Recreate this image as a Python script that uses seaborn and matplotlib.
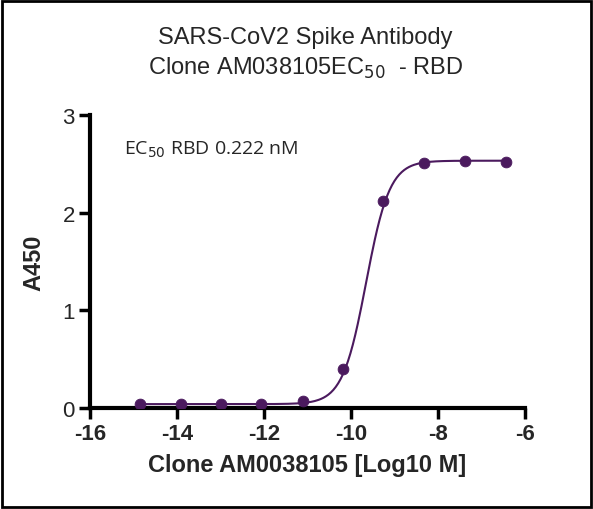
import numpy as np
import pandas as pd
import matplotlib
matplotlib.use("Agg")
import matplotlib.pyplot as plt
from matplotlib.patches import Rectangle
import seaborn as sns

# measured points (log10 M concentration vs A450)
log_conc = [-14.85, -13.91, -12.98, -12.06, -11.10, -10.18, -9.26, -8.31, -7.37, -6.44]
a450 = [0.04, 0.04, 0.04, 0.04, 0.07, 0.40, 2.12, 2.51, 2.53, 2.52]

# 4PL fit parameters
bottom, top, log_ec50, hill = 0.04, 2.53, -9.65, 1.6

x_ticks = [-16, -14, -12, -10, -8, -6]
y_ticks = [0, 1, 2, 3]

color = "#4b1a5e"

sns.set_style("white")
plt.rcParams["font.family"] = ["Liberation Sans", "DejaVu Sans"]

fig = plt.figure(figsize=(5.93, 5.10), dpi=100)
ax = fig.add_axes([0.152, 0.198, 0.733, 0.575])

df = pd.DataFrame({"x": log_conc, "y": a450})

# fitted curve
xs = np.linspace(min(log_conc), max(log_conc), 300)
ys = bottom + (top - bottom) / (1 + 10 ** ((log_ec50 - xs) * hill))
fit = pd.DataFrame({"x": xs, "y": ys})
sns.lineplot(data=fit, x="x", y="y", ax=ax, color=color, linewidth=1.5)
sns.scatterplot(data=df, x="x", y="y", ax=ax, color=color, s=60, edgecolor=color, zorder=3)

ax.set_xlim(-16, -6)
ax.set_ylim(0, 3)
ax.set_xticks(x_ticks)
ax.set_yticks(y_ticks)
ax.set_xticklabels([str(t) for t in x_ticks], fontsize=16, fontweight="bold")
ax.set_yticklabels([str(t) for t in y_ticks], fontsize=16)
ax.tick_params(axis="both", direction="out", length=8, width=2.5, color="black",
               bottom=True, left=True, pad=3)

sns.despine(ax=ax)
for side in ["left", "bottom"]:
    ax.spines[side].set_linewidth(3)
    ax.spines[side].set_color("black")

ax.set_xlabel("Clone AM0038105 [Log10 M]", fontsize=17, fontweight="bold", labelpad=6)
ax.set_ylabel("A450", fontsize=17, fontweight="bold", labelpad=12)

ax.text(-15.22, 2.65, r"EC$_{50}$ RBD 0.222 nM", fontsize=14,
        family=["Open Sans", "DejaVu Sans"], ha="left", va="center")

fig.text(0.515, 0.925, "SARS-CoV2 Spike Antibody", ha="center", va="center", fontsize=17)
fig.text(0.515, 0.866, r"Clone AM038105EC$_{50}$  - RBD", ha="center", va="center", fontsize=17)

# outer frame of the image
fig.patches.append(Rectangle((0.004, 0.004), 0.992, 0.992, transform=fig.transFigure,
                             fill=False, edgecolor="black", linewidth=2))

fig.savefig("out.png", dpi=100)
